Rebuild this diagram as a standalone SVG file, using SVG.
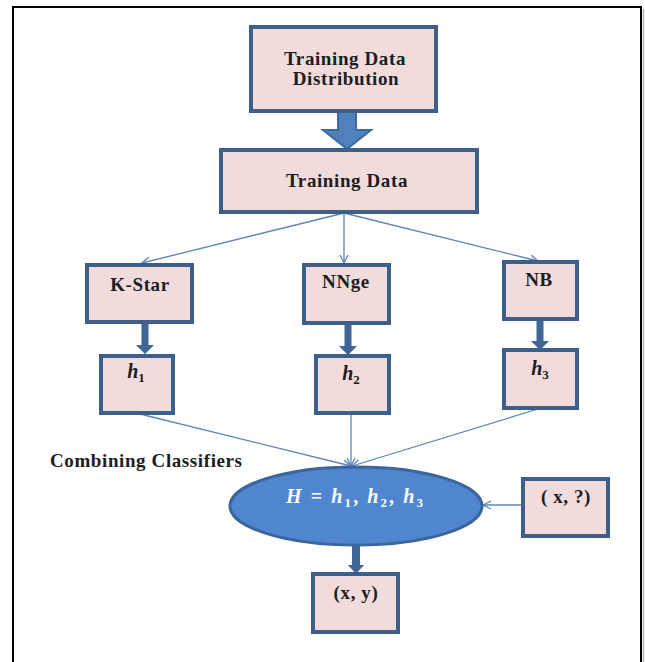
<svg xmlns="http://www.w3.org/2000/svg" width="645" height="662" viewBox="0 0 645 662">
<defs>
<style>
.box{fill:#f2dcdb;stroke:#3e5f8a;stroke-width:4}
.t{font-family:"Liberation Serif","Times New Roman",serif;font-weight:bold;font-size:19px;fill:#1c1c24;letter-spacing:0.6px}
.m{font-family:"Liberation Serif","Times New Roman",serif;font-weight:bold;font-size:20px;fill:#1c1c24}
.thin{fill:none;stroke:#5b86b8;stroke-width:1.3}
.thick{fill:#3f6697;stroke:none}
</style>
<marker id="open" viewBox="0 0 10 10" refX="9" refY="5" markerWidth="10" markerHeight="10" markerUnits="userSpaceOnUse" orient="auto">
<path d="M1,1 L9,5 L1,9" fill="none" stroke="#5b86b8" stroke-width="1.3"/>
</marker>
</defs>
<rect width="645" height="662" fill="#ffffff"/>
<path d="M643.5,9 V662" stroke="#b5b5b5" stroke-width="1.5" fill="none"/>
<path d="M13,662 V7 H641 V662" stroke="#000" stroke-width="2" fill="none"/>

<g id="connectors">
<path d="M338,112 H356 V130 H371 L347,149 L323,130 H338 Z" fill="#4f81bd" stroke="#3b6aa0" stroke-width="2"/>
<line x1="344" y1="213" x2="142" y2="263" class="thin" marker-end="url(#open)"/>
<line x1="344" y1="213" x2="344" y2="263" class="thin" marker-end="url(#open)"/>
<line x1="344" y1="213" x2="538" y2="261" class="thin" marker-end="url(#open)"/>
<path d="M141.5,322 H148.5 V345 H154 L145,354 L136,345 H141.5 Z" class="thick"/>
<path d="M344.5,323 H351.5 V346 H357 L348,355 L339,346 H344.5 Z" class="thick"/>
<path d="M536.5,319 H543.5 V341 H549 L540,350 L531,341 H536.5 Z" class="thick"/>
<line x1="140" y1="414" x2="351" y2="466" class="thin" marker-end="url(#open)"/>
<line x1="351" y1="414" x2="351" y2="466" class="thin" marker-end="url(#open)"/>
<line x1="538" y1="409" x2="352" y2="466" class="thin" marker-end="url(#open)"/>
<line x1="523" y1="505" x2="483" y2="505" class="thin" marker-end="url(#open)"/>
<path d="M352,545 H360 V565 H364 L356,574 L348,565 H352 Z" class="thick"/>
</g>

<g id="dist">
<rect class="box" x="251" y="27" width="185" height="84"/>
<text class="t" x="345" y="65" text-anchor="middle">Training Data</text>
<text class="t" x="346" y="85" text-anchor="middle">Distribution</text>
</g>
<g id="train">
<rect class="box" x="221" y="150" width="256" height="62"/>
<text class="t" x="347" y="187" text-anchor="middle">Training Data</text>
</g>
<g id="kstar">
<rect class="box" x="87" y="265" width="105" height="57"/>
<text class="t" x="140" y="291" text-anchor="middle">K-Star</text>
</g>
<g id="nnge">
<rect class="box" x="304" y="265" width="85" height="58"/>
<text class="t" x="346" y="288" text-anchor="middle">NNge</text>
</g>
<g id="nb">
<rect class="box" x="504" y="262" width="73" height="57"/>
<text class="t" x="539" y="286" text-anchor="middle">NB</text>
</g>
<g id="h1">
<rect class="box" x="101" y="356" width="72" height="57"/>
<text class="m" x="136" y="378" text-anchor="middle"><tspan font-style="italic">h</tspan><tspan font-size="13" dy="4">1</tspan></text>
</g>
<g id="h2">
<rect class="box" x="316" y="356" width="73" height="57"/>
<text class="m" x="351" y="380" text-anchor="middle"><tspan font-style="italic">h</tspan><tspan font-size="13" dy="4">2</tspan></text>
</g>
<g id="h3">
<rect class="box" x="504" y="350" width="73" height="58"/>
<text class="m" x="540" y="375" text-anchor="middle"><tspan font-style="italic">h</tspan><tspan font-size="13" dy="4">3</tspan></text>
</g>
<g id="combining-label">
<text class="t" x="50" y="467">Combining Classifiers</text>
</g>
<g id="H">
<ellipse cx="356" cy="506" rx="126" ry="39" fill="#4f86cf" stroke="#3b659c" stroke-width="3"/>
<text x="286" y="503" font-family="'Liberation Serif','Times New Roman',serif" font-weight="bold" font-size="20" fill="#ffffff" textLength="137" lengthAdjust="spacing"><tspan font-style="italic">H</tspan> = <tspan font-style="italic">h</tspan><tspan font-size="13" dy="4">1</tspan><tspan dy="-4">, </tspan><tspan font-style="italic">h</tspan><tspan font-size="13" dy="4">2</tspan><tspan dy="-4">, </tspan><tspan font-style="italic">h</tspan><tspan font-size="13" dy="4">3</tspan></text>
</g>
<g id="xq">
<rect class="box" x="523" y="479" width="85" height="57"/>
<text class="t" x="566" y="503" text-anchor="middle">( x, ?)</text>
</g>
<g id="xy">
<rect class="box" x="313" y="574" width="85" height="58"/>
<text class="t" x="356" y="599" text-anchor="middle">(x, y)</text>
</g>
</svg>
